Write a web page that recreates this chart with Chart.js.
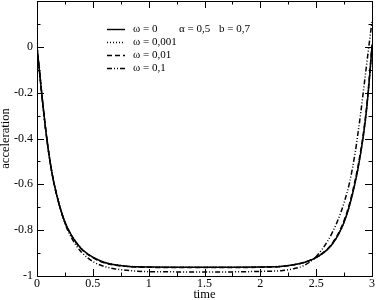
<!DOCTYPE html>
<html>
<head>
<meta charset="utf-8">
<script src="https://cdn.jsdelivr.net/npm/chart.js@4"></script>
<style>
  html, body { margin: 0; padding: 0; background: #fff; }
  #wrap { width: 376px; height: 300px; }
</style>
</head>
<body>
<div id="wrap"><canvas id="chart" width="376" height="300"></canvas></div>
<script>
// time samples
const timePoints = [0, 0.025, 0.05, 0.075, 0.1, 0.125, 0.15, 0.2, 0.25, 0.3, 0.35, 0.4, 0.5, 0.6, 0.7, 0.8, 0.9, 1.0,
    1.25, 1.5, 1.75, 2.0, 2.1, 2.2, 2.3, 2.4, 2.5, 2.6, 2.65, 2.7, 2.75, 2.8, 2.85, 2.875, 2.9, 2.925, 2.95, 2.975, 3.0];

const omega0 = [0, -0.12, -0.24, -0.35, -0.445, -0.525, -0.59, -0.69, -0.765, -0.815, -0.853, -0.882, -0.918, -0.94, -0.951, -0.957, -0.96, -0.961,
    -0.962, -0.962, -0.962, -0.961, -0.96, -0.957, -0.951, -0.94, -0.92, -0.885, -0.857, -0.818, -0.765, -0.69, -0.59, -0.53, -0.46, -0.38, -0.28, -0.15, 0];
const omega001 = [0, -0.12, -0.24, -0.35, -0.445, -0.525, -0.59, -0.69, -0.765, -0.815, -0.853, -0.882, -0.918, -0.94, -0.951, -0.957, -0.96, -0.961,
    -0.962, -0.962, -0.962, -0.961, -0.96, -0.957, -0.951, -0.94, -0.92, -0.885, -0.857, -0.818, -0.765, -0.69, -0.59, -0.53, -0.46, -0.38, -0.28, -0.15, 0];
const omega01 = [0, -0.12, -0.24, -0.35, -0.445, -0.525, -0.59, -0.69, -0.766, -0.817, -0.855, -0.884, -0.92, -0.942, -0.953, -0.958, -0.961, -0.962,
    -0.963, -0.963, -0.963, -0.962, -0.961, -0.958, -0.951, -0.939, -0.918, -0.882, -0.853, -0.813, -0.758, -0.682, -0.58, -0.52, -0.45, -0.37, -0.27, -0.14, 0.01];
const omega1 = [0, -0.12, -0.24, -0.35, -0.445, -0.525, -0.59, -0.69, -0.77, -0.825, -0.866, -0.897, -0.937, -0.958, -0.969, -0.975, -0.979, -0.981,
    -0.982, -0.982, -0.982, -0.98, -0.979, -0.976, -0.968, -0.952, -0.915, -0.85, -0.805, -0.75, -0.68, -0.59, -0.46, -0.375, -0.285, -0.185, -0.085, 0.015, 0.11];

const seriesLabels = ['ω = 0', 'ω = 0,001', 'ω = 0,01', 'ω = 0,1'];
const paramLabels = ['α = 0,5', 'b = 0,7'];
const seriesDash = [[], [1, 2], [5, 3], [5, 2, 1, 2, 1, 2]];

const xTicks = [0, 0.5, 1, 1.5, 2, 2.5, 3];
const xMinor = [0.25, 0.75, 1.25, 1.75, 2.25, 2.75];
const yTicks = [-1, -0.8, -0.6, -0.4, -0.2, 0];
const yMinor = [-0.9, -0.7, -0.5, -0.3, -0.1, 0.1];

const serif = '"Liberation Serif", "DejaVu Serif", serif';

const seriesData = [omega0, omega001, omega01, omega1];
const datasets = seriesData.map((vals, i) => ({
    label: seriesLabels[i],
    data: vals.map((v, k) => ({ x: timePoints[k], y: v })),
    borderColor: '#000',
    borderWidth: 1.5,
    borderDash: seriesDash[i],
    pointRadius: 0,
    fill: false,
    cubicInterpolationMode: 'monotone'
}));

// frame, inward ticks and the legend box inside the plot
const framePlugin = {
    id: 'frame',
    afterDraw(chart) {
        const { ctx, chartArea: a, scales } = chart;
        const xs = scales.x, ys = scales.y;
        ctx.save();
        ctx.strokeStyle = '#000';
        ctx.lineWidth = 1;
        ctx.setLineDash([]);
        ctx.strokeRect(Math.round(a.left) + 0.5, Math.round(a.top) + 0.5,
            Math.round(a.right - a.left), Math.round(a.bottom - a.top));
        ctx.beginPath();
        const tick = (vals, len) => {
            vals.forEach(v => {
                const px = Math.round(xs.getPixelForValue(v)) + 0.5;
                ctx.moveTo(px, a.bottom); ctx.lineTo(px, a.bottom - len);
                ctx.moveTo(px, a.top); ctx.lineTo(px, a.top + len);
            });
        };
        const ytick = (vals, len) => {
            vals.forEach(v => {
                const py = Math.round(ys.getPixelForValue(v)) + 0.5;
                ctx.moveTo(a.left, py); ctx.lineTo(a.left + len, py);
                ctx.moveTo(a.right, py); ctx.lineTo(a.right - len, py);
            });
        };
        tick(xTicks, 7); tick(xMinor, 3.5);
        ytick(yTicks, 7); ytick(yMinor, 3.5);
        ctx.stroke();

        // legend
        ctx.font = '11px ' + serif;
        ctx.fillStyle = '#000';
        ctx.textBaseline = 'middle';
        chart.data.datasets.forEach((ds, i) => {
            const y = 29.5 + 13 * i;
            ctx.beginPath();
            ctx.setLineDash(ds.borderDash);
            ctx.lineWidth = 1.4;
            ctx.moveTo(107, y); ctx.lineTo(125, y);
            ctx.stroke();
            ctx.fillText(ds.label, 133, y);
        });
        ctx.fillText(paramLabels[0], 179, 29.5);
        ctx.fillText(paramLabels[1], 219, 29.5);
        ctx.restore();
    }
};

new Chart(document.getElementById('chart'), {
    type: 'line',
    data: { datasets },
    options: {
        responsive: false,
        animation: false,
        layout: { padding: { top: 1, right: 4, left: 0, bottom: 0 } },
        plugins: { legend: { display: false }, tooltip: { enabled: false } },
        scales: {
            x: {
                type: 'linear',
                min: 0, max: 3,
                afterBuildTicks: s => { s.ticks = xTicks.map(v => ({ value: v })); },
                afterFit: s => { s.height = 24; s.paddingLeft = 0; s.paddingRight = 0; },
                grid: { display: false, drawTicks: false },
                border: { display: false },
                ticks: { color: '#000', padding: 1, maxRotation: 0, font: { family: serif, size: 12 },
                    callback: v => String(v) },
                title: { display: true, text: 'time', color: '#000', padding: { top: 0, bottom: -2 },
                    font: { family: serif, size: 12.5 } }
            },
            y: {
                min: -1, max: 0.2,
                afterBuildTicks: s => { s.ticks = yTicks.map(v => ({ value: v })); },
                afterFit: s => { s.width = 37; s.paddingTop = 0; s.paddingBottom = 0; },
                grid: { display: false, drawTicks: false },
                border: { display: false },
                ticks: { color: '#000', padding: 4, font: { family: serif, size: 12 },
                    callback: v => String(v) },
                title: { display: true, text: 'acceleration', color: '#000', padding: { top: -2, bottom: 0 },
                    font: { family: serif, size: 12.5 } }
            }
        }
    },
    plugins: [framePlugin]
});
</script>
</body>
</html>
